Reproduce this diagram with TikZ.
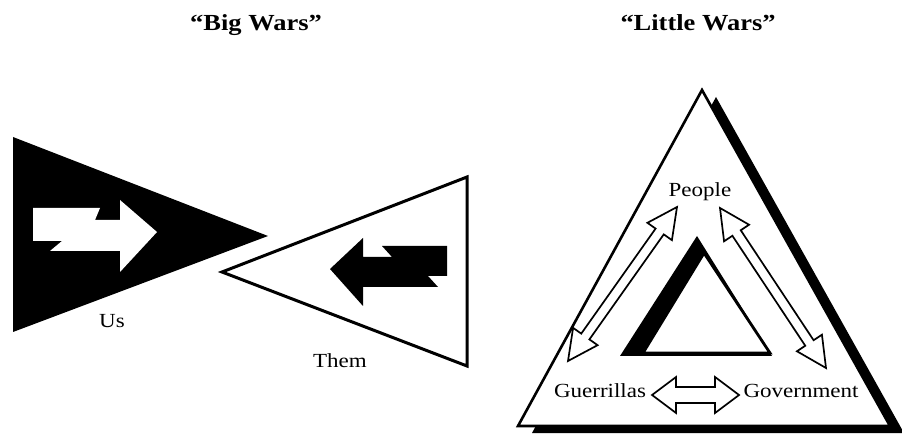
\documentclass[tikz,border=0pt]{standalone}
\usepackage{fontspec}
\setmainfont{Liberation Serif}[FakeStretch=1.15]
\usetikzlibrary{calc}

\begin{document}
\begin{tikzpicture}[
    x=1pt, y=-1pt,
    % Text styles
    title text/.style={font=\fontsize{23}{26}\selectfont\bfseries, anchor=base},
    side label/.style={font=\fontsize{20}{24}\selectfont, anchor=base},
    % Triangle styles
    thin frame/.style={draw=black, line width=2.6pt, line join=miter},
    solid shadow/.style={fill=black},
    % Hollow two-way arrow between two points: shaft half width, head half width, head length
    twoway arrow/.style n args={3}{draw=black, fill=white, line width=1.7pt, line join=miter,
        to path={
            -- ($(\tikztostart)!#3!(\tikztotarget)!#2!90:(\tikztotarget)$)
            -- ($(\tikztostart)!#3!(\tikztotarget)!#1!90:(\tikztotarget)$)
            -- ($(\tikztotarget)!#3!(\tikztostart)!#1!-90:(\tikztostart)$)
            -- ($(\tikztotarget)!#3!(\tikztostart)!#2!-90:(\tikztostart)$)
            -- (\tikztotarget)
            -- ($(\tikztotarget)!#3!(\tikztostart)!#2!90:(\tikztostart)$)
            -- ($(\tikztotarget)!#3!(\tikztostart)!#1!90:(\tikztostart)$)
            -- ($(\tikztostart)!#3!(\tikztotarget)!#1!-90:(\tikztotarget)$)
            -- ($(\tikztostart)!#3!(\tikztotarget)!#2!-90:(\tikztotarget)$)
            -- cycle}}
]
    \useasboundingbox (0,0) rectangle (902,435);

    % =========================================================================
    % 1. Titles
    % =========================================================================
    \node[title text] (big) at (256,31) {“Big Wars”};
    \node[title text] (little) at (698,31) {“Little Wars”};

    % =========================================================================
    % 2. Big wars: two opposed triangles
    % =========================================================================
    % Us (solid) with white arrow
    \fill[solid shadow] (13,137) -- (268,236) -- (13,332) -- cycle;
    \fill[white] (33,208) -- (100,208) -- (95,220) -- (120,220) -- (120,200) -- (157,232)
        -- (120,272) -- (120,251) -- (50,251) -- (62,241) -- (33,241) -- cycle;
    \node[side label] (us) at (112,328) {Us};

    % Them (outlined) with black arrow
    \draw[thin frame, line width=3pt] (467,177) -- (222,272) -- (467,366) -- cycle;
    \fill[solid shadow] (330,269) -- (363,238) -- (363,257) -- (392,257) -- (382,246) -- (447,246)
        -- (447,276) -- (428,276) -- (438,287) -- (363,287) -- (363,306) -- cycle;
    \node[side label] (them) at (340,367) {Them};

    % =========================================================================
    % 3. Little wars: triangle with shadow
    % =========================================================================
    \fill[solid shadow, shift={(14,7)}] (702,90) -- (890,426) -- (518,426) -- cycle;
    \draw[thin frame, fill=white] (702,90) -- (890,426) -- (518,426) -- cycle;

    % Inner triangle, shadow on the left
    \fill[solid shadow] (697,236) -- (772,356) -- (620,356) -- cycle;
    \draw[thin frame, line width=2.8pt, fill=white] (704,253) -- (770,353) -- (643,353) -- cycle;

    % Labels
    \node[side label] (people) at (700,197) {People};
    \node[side label] (guerr) at (600,397) {Guerrillas};
    \node[side label] (govt) at (801,397) {Government};

    % Arrow ends
    \coordinate (g1) at (568,361);
    \coordinate (p1) at (677,207);
    \coordinate (p2) at (720,208);
    \coordinate (v1) at (826,368);
    \coordinate (g2) at (652,395);
    \coordinate (v2) at (739,395);

    \draw[twoway arrow={5pt}{15pt}{30pt}] (g1) to (p1);
    \draw[twoway arrow={5pt}{15pt}{30pt}] (p2) to (v1);
    \draw[twoway arrow={8pt}{18pt}{24pt}] (g2) to (v2);
\end{tikzpicture}
\end{document}
